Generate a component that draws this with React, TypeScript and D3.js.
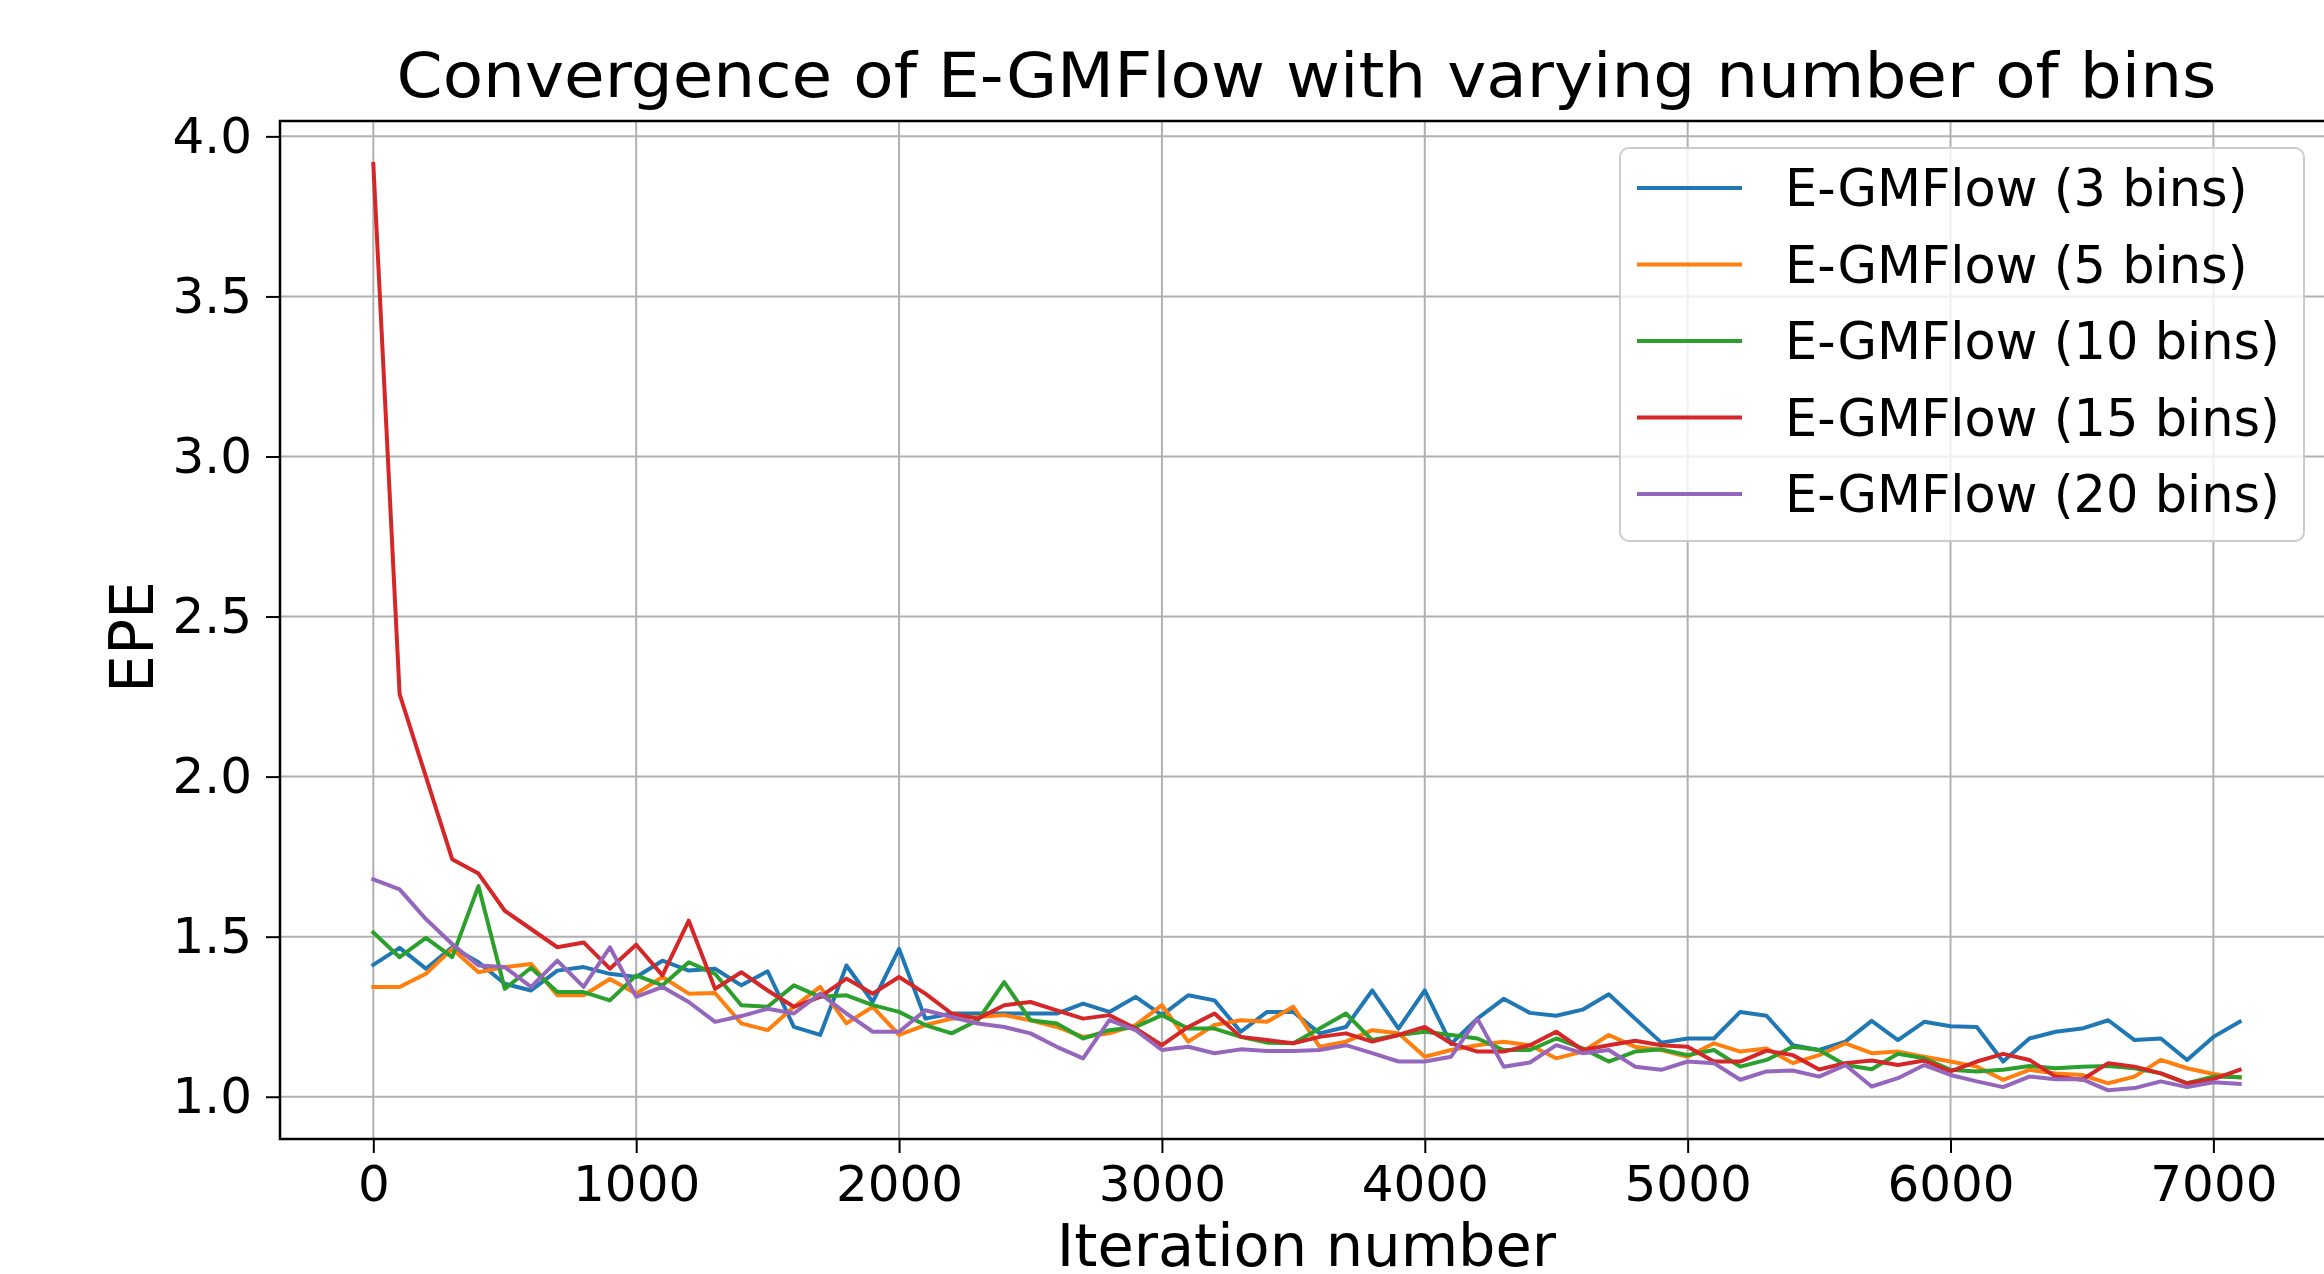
import React, { useRef, useEffect } from 'react';
import * as d3 from 'd3';

// iteration steps (every 100 iterations)
const iterations: number[] = d3.range(0, 7200, 100);

const bins3 = [
  1.412, 1.465, 1.40, 1.467, 1.42, 1.353, 1.332, 1.394, 1.405, 1.384,
  1.374, 1.425, 1.394, 1.40, 1.348, 1.392, 1.218, 1.193, 1.410, 1.296,
  1.462, 1.244, 1.260, 1.260, 1.260, 1.260, 1.260, 1.291, 1.265, 1.312,
  1.255, 1.317, 1.301, 1.203, 1.265, 1.265, 1.198, 1.218, 1.332, 1.213,
  1.332, 1.165, 1.244, 1.306, 1.262, 1.253, 1.272, 1.320, 1.244, 1.169,
  1.182, 1.182, 1.265, 1.253, 1.161, 1.146, 1.172, 1.237, 1.177, 1.234,
  1.220, 1.218, 1.110, 1.182, 1.203, 1.213, 1.239, 1.177, 1.182, 1.115,
  1.187, 1.234,
];

const bins5 = [
  1.343, 1.343, 1.384, 1.462, 1.389, 1.405, 1.415, 1.317, 1.317, 1.368,
  1.322, 1.374, 1.322, 1.324, 1.229, 1.208, 1.281, 1.343, 1.229, 1.281,
  1.193, 1.224, 1.244, 1.249, 1.255, 1.239, 1.218, 1.187, 1.198, 1.224,
  1.286, 1.172, 1.224, 1.239, 1.234, 1.281, 1.156, 1.172, 1.208, 1.198,
  1.125, 1.146, 1.161, 1.172, 1.161, 1.120, 1.141, 1.193, 1.156, 1.146,
  1.125, 1.167, 1.141, 1.151, 1.105, 1.130, 1.167, 1.136, 1.141, 1.125,
  1.110, 1.094, 1.053, 1.084, 1.073, 1.068, 1.042, 1.063, 1.115, 1.089,
  1.071, 1.060,
];

const bins10 = [
  1.513, 1.436, 1.496, 1.436, 1.658, 1.337, 1.403, 1.327, 1.327, 1.301,
  1.379, 1.348, 1.420, 1.384, 1.286, 1.281, 1.348, 1.312, 1.317, 1.286,
  1.265, 1.224, 1.198, 1.239, 1.358, 1.239, 1.229, 1.182, 1.208, 1.218,
  1.255, 1.213, 1.213, 1.187, 1.169, 1.167, 1.213, 1.260, 1.177, 1.193,
  1.203, 1.193, 1.182, 1.146, 1.146, 1.182, 1.151, 1.110, 1.141, 1.148,
  1.130, 1.146, 1.094, 1.115, 1.156, 1.146, 1.099, 1.086, 1.134, 1.120,
  1.084, 1.079, 1.084, 1.096, 1.089, 1.094, 1.096, 1.089, 1.073, 1.042,
  1.063, 1.061,
];

const bins15 = [
  3.914, 2.258, 2.0, 1.742, 1.697, 1.581, 1.524, 1.467, 1.482, 1.400,
  1.475, 1.379, 1.550, 1.337, 1.389, 1.332, 1.281, 1.312, 1.369, 1.322,
  1.374, 1.322, 1.260, 1.244, 1.286, 1.296, 1.270, 1.244, 1.255, 1.213,
  1.161, 1.218, 1.260, 1.187, 1.177, 1.167, 1.187, 1.198, 1.172, 1.193,
  1.218, 1.167, 1.141, 1.141, 1.161, 1.203, 1.146, 1.161, 1.175, 1.161,
  1.156, 1.110, 1.110, 1.144, 1.130, 1.085, 1.105, 1.113, 1.099, 1.113,
  1.079, 1.110, 1.134, 1.115, 1.063, 1.053, 1.105, 1.094, 1.073, 1.042,
  1.055, 1.084,
];

const bins20 = [
  1.679, 1.648, 1.555, 1.477, 1.410, 1.405, 1.343, 1.425, 1.343, 1.467,
  1.312, 1.343, 1.296, 1.234, 1.252, 1.275, 1.260, 1.322, 1.260, 1.203,
  1.203, 1.270, 1.249, 1.229, 1.218, 1.198, 1.156, 1.120, 1.239, 1.208,
  1.146, 1.156, 1.136, 1.148, 1.143, 1.143, 1.146, 1.161, 1.136, 1.110,
  1.110, 1.125, 1.244, 1.094, 1.107, 1.161, 1.136, 1.146, 1.094, 1.084,
  1.110, 1.105, 1.053, 1.079, 1.082, 1.063, 1.099, 1.032, 1.058, 1.099,
  1.068, 1.048, 1.030, 1.063, 1.055, 1.055, 1.020, 1.027, 1.048, 1.030,
  1.045, 1.040,
];

const seriesLabels = [
  'E-GMFlow (3 bins)',
  'E-GMFlow (5 bins)',
  'E-GMFlow (10 bins)',
  'E-GMFlow (15 bins)',
  'E-GMFlow (20 bins)',
];
const seriesValues = [bins3, bins5, bins10, bins15, bins20];
const seriesColors = ['#1f77b4', '#ff7f0e', '#2ca02c', '#d62728', '#9467bd'];

const xTicks = [0, 1000, 2000, 3000, 4000, 5000, 6000, 7000];
const yTicks = [1.0, 1.5, 2.0, 2.5, 3.0, 3.5, 4.0];

const FONT = '"DejaVu Sans", sans-serif';

export default function App() {
  const ref = useRef<SVGSVGElement>(null);

  useEffect(() => {
    const W = 2324;
    const H = 1274;
    const margin = { top: 121, left: 280, right: 2333, bottom: 1139 };

    const svg = d3.select(ref.current);
    svg.selectAll('*').remove();
    svg.attr('width', W).attr('height', H);

    svg.append('rect').attr('width', W).attr('height', H).attr('fill', '#fff');

    const x = d3.scaleLinear().domain([-355, 7455]).range([margin.left, margin.right]);
    const y = d3.scaleLinear().domain([0.868, 4.048]).range([margin.bottom, margin.top]);

    // grid
    const grid = svg.append('g');
    grid.selectAll('line.gx')
      .data(xTicks)
      .enter()
      .append('line')
      .attr('x1', d => x(d)).attr('x2', d => x(d))
      .attr('y1', margin.top).attr('y2', margin.bottom)
      .attr('stroke', '#b0b0b0')
      .attr('stroke-width', 2);
    grid.selectAll('line.gy')
      .data(yTicks)
      .enter()
      .append('line')
      .attr('y1', d => y(d)).attr('y2', d => y(d))
      .attr('x1', margin.left).attr('x2', margin.right)
      .attr('stroke', '#b0b0b0')
      .attr('stroke-width', 2);

    // lines
    const line = d3.line<number>()
      .x((d, i) => x(iterations[i]))
      .y(d => y(d));

    svg.append('g')
      .selectAll('path')
      .data(seriesValues)
      .enter()
      .append('path')
      .attr('d', d => line(d))
      .attr('fill', 'none')
      .attr('stroke', (d, i) => seriesColors[i])
      .attr('stroke-width', 4)
      .attr('stroke-linejoin', 'round')
      .attr('stroke-linecap', 'square');

    // spines
    svg.append('rect')
      .attr('x', margin.left)
      .attr('y', margin.top)
      .attr('width', margin.right - margin.left)
      .attr('height', margin.bottom - margin.top)
      .attr('fill', 'none')
      .attr('stroke', '#000')
      .attr('stroke-width', 2.5);

    // axes
    const xAxis = d3.axisBottom(x)
      .tickValues(xTicks)
      .tickSize(14)
      .tickPadding(12)
      .tickFormat(d => String(d));
    const gx = svg.append('g')
      .attr('transform', `translate(0,${margin.bottom})`)
      .call(xAxis);
    gx.select('.domain').remove();
    gx.selectAll('line').attr('stroke', '#000').attr('stroke-width', 2);
    gx.selectAll('text')
      .attr('fill', '#000')
      .style('font-family', FONT)
      .style('font-size', '50px');

    const yAxis = d3.axisLeft(y)
      .tickValues(yTicks)
      .tickSize(14)
      .tickPadding(14)
      .tickFormat(d3.format('.1f'));
    const gy = svg.append('g')
      .attr('transform', `translate(${margin.left},0)`)
      .call(yAxis);
    gy.select('.domain').remove();
    gy.selectAll('line').attr('stroke', '#000').attr('stroke-width', 2);
    gy.selectAll('text')
      .attr('fill', '#000')
      .style('font-family', FONT)
      .style('font-size', '50px');

    // labels
    svg.append('text')
      .attr('x', (margin.left + margin.right) / 2)
      .attr('y', 97)
      .attr('text-anchor', 'middle')
      .attr('textLength', 1820)
      .attr('lengthAdjust', 'spacingAndGlyphs')
      .style('font-family', FONT)
      .style('font-size', '63px')
      .text('Convergence of E-GMFlow with varying number of bins');

    svg.append('text')
      .attr('x', (margin.left + margin.right) / 2)
      .attr('y', 1266)
      .attr('text-anchor', 'middle')
      .style('font-family', FONT)
      .style('font-size', '59px')
      .text('Iteration number');

    svg.append('text')
      .attr('transform', `translate(153,${(margin.top + margin.bottom) / 2 + 7}) rotate(-90)`)
      .attr('text-anchor', 'middle')
      .style('font-family', FONT)
      .style('font-size', '60px')
      .text('EPE');

    // legend
    const legend = svg.append('g').attr('transform', 'translate(1620,148)');
    legend.append('rect')
      .attr('width', 684)
      .attr('height', 393)
      .attr('rx', 9)
      .attr('fill', '#fff')
      .attr('fill-opacity', 0.8)
      .attr('stroke', '#cccccc')
      .attr('stroke-width', 2);

    const items = legend.selectAll('g.item')
      .data(seriesLabels)
      .enter()
      .append('g')
      .attr('class', 'item')
      .attr('transform', (d, i) => `translate(0,${40 + i * 76.5})`);

    items.append('line')
      .attr('x1', 17).attr('x2', 122)
      .attr('stroke', (d, i) => seriesColors[i])
      .attr('stroke-width', 4);

    items.append('text')
      .attr('x', 165)
      .attr('y', 18)
      .style('font-family', FONT)
      .style('font-size', '51px')
      .text(d => d);
  }, []);

  return (
    <div style={{ position: 'absolute', left: 0, top: 0 }}>
      <svg ref={ref}></svg>
    </div>
  );
}
